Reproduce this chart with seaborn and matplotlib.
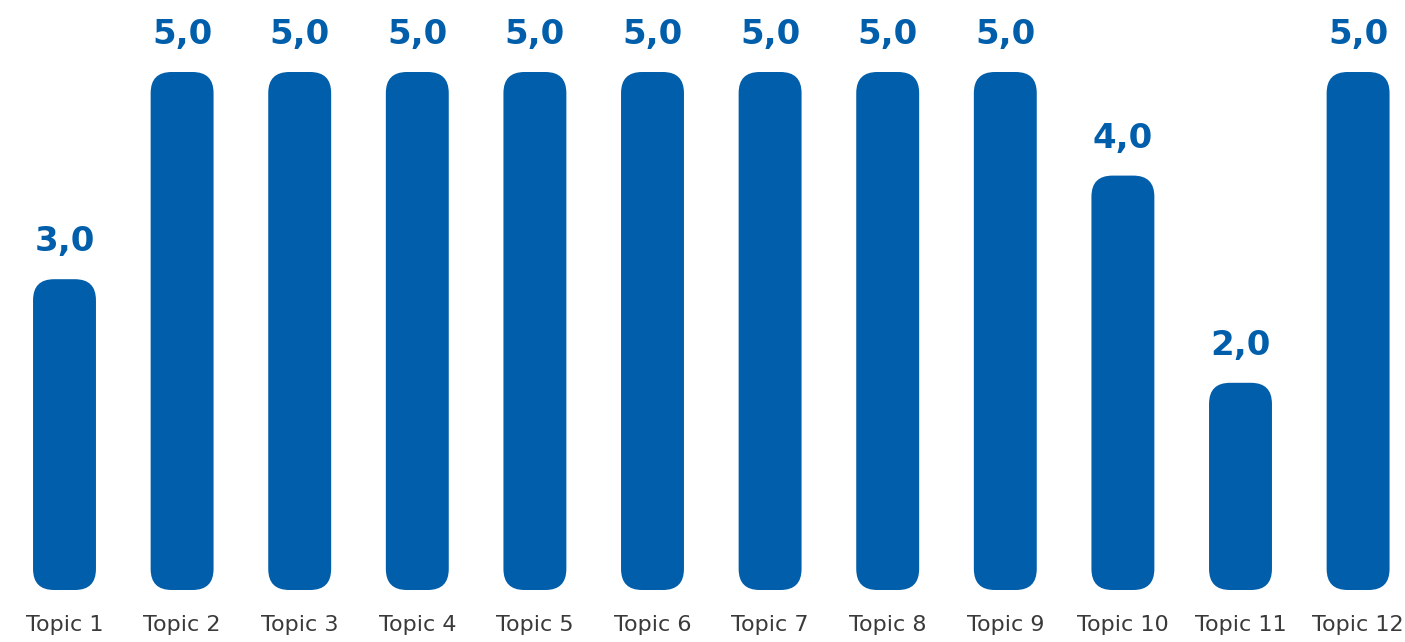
import matplotlib
matplotlib.use("Agg")
import matplotlib.pyplot as plt
from matplotlib.patches import FancyBboxPatch
import seaborn as sns
import pandas as pd

topics = ["Topic 1", "Topic 2", "Topic 3", "Topic 4", "Topic 5", "Topic 6",
          "Topic 7", "Topic 8", "Topic 9", "Topic 10", "Topic 11", "Topic 12"]
scores = [3.0, 5.0, 5.0, 5.0, 5.0, 5.0, 5.0, 5.0, 5.0, 4.0, 2.0, 5.0]
value_labels = ["3,0", "5,0", "5,0", "5,0", "5,0", "5,0", "5,0", "5,0", "5,0", "4,0", "2,0", "5,0"]

BLUE = "#005EAA"

sns.set_theme(style="white")
plt.rcParams["font.family"] = ["DejaVu Sans"]

df = pd.DataFrame({"topic": topics, "score": scores})

fig = plt.figure(figsize=(14.05, 6.42), dpi=100)
ax = fig.add_axes([0, 52 / 642, 1, 590 / 642])

sns.barplot(data=df, x="topic", y="score", color=BLUE, width=0.535,
            saturation=1, ax=ax)

ax.set_xlim(-64.5 / 117.6, (1405 - 64.5) / 117.6)
ax.set_ylim(0, 590 / 103.6)

# replace the square bars with rounded ones
fig.canvas.draw()
px_per_x = ax.transData.transform((1, 0))[0] - ax.transData.transform((0, 0))[0]
px_per_y = ax.transData.transform((0, 1))[1] - ax.transData.transform((0, 0))[1]
radius_px = 21
for p in list(ax.patches):
    x, y = p.get_x(), p.get_y()
    w, h = p.get_width(), p.get_height()
    p.remove()
    rnd = FancyBboxPatch((x, y), w, h,
                         boxstyle=f"round,pad=0,rounding_size={radius_px / px_per_x}",
                         mutation_aspect=px_per_x / px_per_y,
                         facecolor=BLUE, edgecolor="none")
    ax.add_patch(rnd)

for i, (v, lab) in enumerate(zip(scores, value_labels)):
    ax.annotate(lab, (i, v), xytext=(0, 15), textcoords="offset points",
                ha="center", va="bottom", fontsize=24.5, fontweight="bold",
                color=BLUE)

ax.set_xlabel("")
ax.set_ylabel("")
ax.set_yticks([])
ax.tick_params(axis="x", length=0, pad=18, labelsize=16, labelcolor="#3a3a3a")
sns.despine(ax=ax, left=True, bottom=True)

fig.savefig("out.png", dpi=100)
